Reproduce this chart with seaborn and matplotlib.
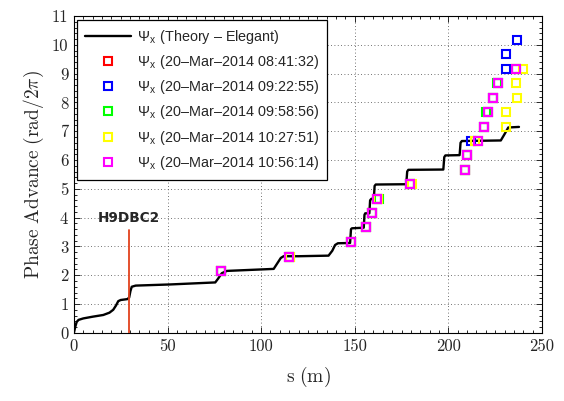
import numpy as np
import seaborn as sns
import matplotlib.pyplot as plt
from matplotlib.ticker import MultipleLocator

# theoretical phase advance (Elegant)
s_theory = [0, 0.7, 1.5, 2.5, 5, 10, 15.7, 19, 21, 22.5, 23.7, 25, 28.5, 29.5, 30.2, 30.9, 33,
            51.4, 75.5, 77, 79, 81.7, 99.6, 106.7, 108.5, 110.5, 112, 120, 136, 138, 139.5, 141,
            147.5, 148, 148.5, 154.8, 155.2, 155.6, 157.8, 158.2, 158.8, 160.2, 160.6, 161.2,
            177.5, 178, 178.6, 197.3, 197.8, 198.4, 206, 206.5, 207.2, 228, 230, 232, 237.7]
psi_theory = [0, 0.2, 0.38, 0.45, 0.5, 0.56, 0.62, 0.7, 0.8, 0.95, 1.1, 1.14, 1.17, 1.22, 1.45, 1.6, 1.64,
              1.68, 1.75, 1.88, 2.07, 2.15, 2.2, 2.22, 2.4, 2.6, 2.66, 2.66, 2.68, 2.85, 3.05, 3.11,
              3.12, 3.6, 3.63, 3.65, 4.1, 4.15, 4.15, 4.6, 4.65, 4.67, 5.1, 5.15,
              5.16, 5.6, 5.66, 5.67, 6.1, 6.16, 6.17, 6.6, 6.66, 6.68, 6.9, 7.13, 7.15]

# measurements
s_0841 = [78.7, 114.7, 148.2, 156.0, 159.2, 162.0, 179.5, 208.8, 210.0, 216.0, 219.0, 221.0, 224.0, 226.6, 236.0]
psi_0841 = [2.15, 2.65, 3.16, 3.66, 4.16, 4.65, 5.16, 5.66, 6.17, 6.67, 7.16, 7.67, 8.17, 8.67, 9.17]

s_0922 = [78.7, 114.7, 148.2, 156.0, 159.2, 162.0, 179.5, 208.8, 210.0, 212.0, 219.0, 221.0, 224.0, 226.6, 231.0, 231.0, 236.6]
psi_0922 = [2.15, 2.65, 3.16, 3.66, 4.16, 4.65, 5.16, 5.66, 6.17, 6.67, 7.16, 7.67, 8.17, 8.67, 9.17, 9.67, 10.17]

s_0958 = [78.7, 115.4, 148.2, 156.0, 159.2, 163.0, 179.5, 208.8, 210.0, 216.0, 219.0, 220.0, 224.0, 225.8, 236.0]
psi_0958 = [2.15, 2.65, 3.16, 3.66, 4.16, 4.65, 5.16, 5.66, 6.17, 6.67, 7.16, 7.67, 8.17, 8.67, 9.17]

s_1027 = [78.7, 115.2, 148.2, 156.0, 159.2, 162.6, 180.6, 208.8, 210.0, 214.0, 231.0, 231.0, 236.4, 236.3, 240.0]
psi_1027 = [2.15, 2.65, 3.16, 3.66, 4.16, 4.65, 5.16, 5.66, 6.17, 6.67, 7.16, 7.67, 8.17, 8.67, 9.17]

s_1056 = [78.7, 114.7, 148.2, 156.0, 159.2, 162.0, 179.5, 208.8, 210.0, 216.0, 219.0, 221.0, 224.0, 226.6, 236.0]
psi_1056 = [2.15, 2.65, 3.16, 3.66, 4.16, 4.65, 5.16, 5.66, 6.17, 6.67, 7.16, 7.67, 8.17, 8.67, 9.17]

measurements = [
    ('20–Mar–2014 08:41:32', s_0841, psi_0841, '#ff0000'),
    ('20–Mar–2014 09:22:55', s_0922, psi_0922, '#0000ff'),
    ('20–Mar–2014 09:58:56', s_0958, psi_0958, '#00ff00'),
    ('20–Mar–2014 10:27:51', s_1027, psi_1027, '#ffff00'),
    ('20–Mar–2014 10:56:14', s_1056, psi_1056, '#ff00ff'),
]

# BPM marker
bpm_name = 'H9DBC2'
bpm_s = 29.4
bpm_top = 3.58
bpm_label_y = 4.0

sns.set_style("ticks")
plt.rcParams['mathtext.fontset'] = 'cm'
plt.rcParams['font.family'] = ['Liberation Sans', 'DejaVu Sans']

fig = plt.figure(figsize=(5.64, 4.01), dpi=100)
ax = fig.add_axes([0.131, 0.170, 0.830, 0.790])

sns.lineplot(x=s_theory, y=psi_theory, ax=ax, color='k', lw=1.7, sort=False, estimator=None,
             label='Ψ$_\\mathregular{x}$ (Theory – Elegant)')

for name, s, psi, c in measurements:
    sns.lineplot(x=s, y=psi, ax=ax, sort=False, estimator=None, linestyle='', marker='s',
                 markersize=5.2, markerfacecolor='none', markeredgecolor=c, markeredgewidth=1.5,
                 color=c, label='Ψ$_\\mathregular{x}$ (' + name + ')')

ax.plot([bpm_s, bpm_s], [0, bpm_top], color='#e2421e', lw=1.3, zorder=3)
ax.text(bpm_s, bpm_label_y, bpm_name, ha='center', va='center', fontsize=9.8,
        fontweight='bold', family='DejaVu Sans')

ax.set_xlim(0, 250)
ax.set_ylim(0, 11)
ax.xaxis.set_major_locator(MultipleLocator(50))
ax.xaxis.set_minor_locator(MultipleLocator(5))
ax.yaxis.set_major_locator(MultipleLocator(1))
ax.yaxis.set_minor_locator(MultipleLocator(0.2))
ax.tick_params(which='both', direction='in', top=True, right=True, width=0.7)
ax.tick_params(which='major', length=4.5, labelsize=12, pad=4)
ax.tick_params(which='minor', length=2)
for lbl in ax.get_xticklabels() + ax.get_yticklabels():
    lbl.set_fontfamily('cmr10')
ax.grid(True, which='major', linestyle=(0, (1, 3)), color='#444444', lw=0.6)
for sp in ax.spines.values():
    sp.set_linewidth(0.8)
    sp.set_color('k')

ax.set_xlabel(r'$\mathrm{s\ (m)}$', fontsize=14, labelpad=8)
ax.set_ylabel(r'$\mathrm{Phase\ Advance\ (rad/2}\pi\mathrm{)}$', fontsize=14, labelpad=4)

leg = ax.legend(loc='upper left', bbox_to_anchor=(0.006, 0.988), borderaxespad=0, fontsize=10.4,
                handlelength=3.2, handletextpad=0.4, labelspacing=0.5, borderpad=0.55,
                fancybox=False, framealpha=1, edgecolor='k')
leg.get_frame().set_linewidth(0.9)

fig.savefig('out.png', dpi=100)
